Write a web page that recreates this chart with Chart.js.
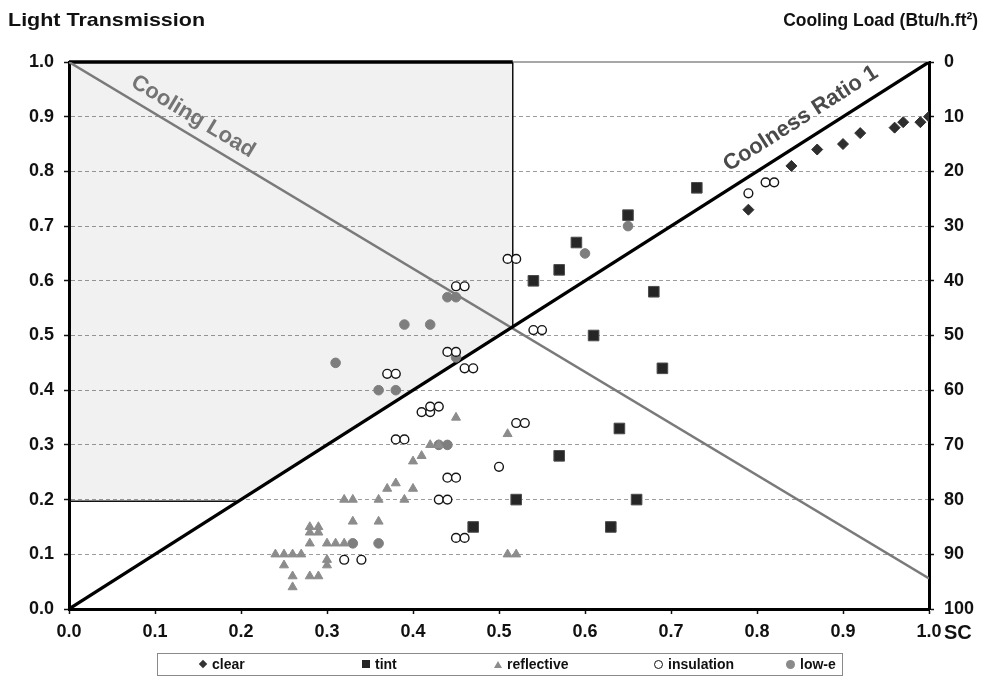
<!DOCTYPE html>
<html>
<head>
<meta charset="utf-8">
<script src="https://cdn.jsdelivr.net/npm/chart.js@4.4.0/dist/chart.umd.min.js"></script>
<style>
  html, body { margin: 0; padding: 0; background: #fff; }
  #wrap { position: relative; width: 985px; height: 680px; font-family: "Liberation Sans", Arial, sans-serif; color: #111; overflow: hidden; }
  #c { position: absolute; left: 0; top: 0; }
  .ttl { position: absolute; top: 9px; font-weight: bold; font-size: 19px; white-space: nowrap; }
  #ttlL { left: 8px; transform-origin: left center; }
  #ttlR { right: 7px; transform-origin: right center; }
  #sc { position: absolute; left: 944px; top: 621px; font-weight: bold; font-size: 20px; }
  #legend { position: absolute; left: 157px; top: 653px; width: 686px; height: 23px; border: 1px solid #8a8a8a; box-sizing: border-box; }
  .li { position: absolute; top: 0; height: 21px; line-height: 21px; font-weight: bold; font-size: 14px; white-space: nowrap; }
  .mk { display: inline-block; vertical-align: middle; margin-right: 5px; position: relative; top: -1px; }
  .mk-clear { width: 6px; height: 6px; background: #333; transform: rotate(45deg); margin-left: 1px; margin-right: 6px; }
  .mk-tint { width: 8px; height: 8px; background: #262626; }
  .mk-reflective { width: 0; height: 0; border-left: 4px solid transparent; border-right: 4px solid transparent; border-bottom: 7px solid #8c8c8c; }
  .mk-insulation { width: 7px; height: 7px; border: 1px solid #111; border-radius: 50%; background: #fff; }
  .mk-low-e { width: 9px; height: 9px; border-radius: 50%; background: #8a8a8a; }
</style>
</head>
<body>
<div id="wrap">
  <canvas id="c" width="985" height="680"></canvas>
  <div class="ttl" id="ttlL">Light Transmission</div>
  <div class="ttl" id="ttlR">Cooling Load (Btu/h.ft²)</div>
  <div id="sc">SC</div>
  <div id="legend"></div>
</div>
<script>
// ---------------- data ----------------
const seriesNames = ['clear', 'tint', 'reflective', 'insulation', 'low-e'];

const clearSC = [0.79, 0.84, 0.87, 0.90, 0.92, 0.96, 0.97, 0.99, 1.00];
const clearLT = [0.73, 0.81, 0.84, 0.85, 0.87, 0.88, 0.89, 0.89, 0.90];

const tintSC = [0.73, 0.65, 0.59, 0.57, 0.54, 0.68, 0.61, 0.69, 0.64, 0.57, 0.52, 0.66, 0.47, 0.63];
const tintLT = [0.77, 0.72, 0.67, 0.62, 0.60, 0.58, 0.50, 0.44, 0.33, 0.28, 0.20, 0.20, 0.15, 0.15];

const reflectiveSC = [0.45, 0.51, 0.41, 0.40, 0.42, 0.43, 0.38, 0.37, 0.40, 0.36, 0.39, 0.32, 0.33, 0.33, 0.36,
                      0.28, 0.29, 0.28, 0.29, 0.28, 0.30, 0.31, 0.32, 0.24, 0.25, 0.26, 0.27, 0.25, 0.26, 0.26,
                      0.28, 0.29, 0.30, 0.30, 0.51, 0.52];
const reflectiveLT = [0.35, 0.32, 0.28, 0.27, 0.30, 0.30, 0.23, 0.22, 0.22, 0.20, 0.20, 0.20, 0.20, 0.16, 0.16,
                      0.15, 0.15, 0.14, 0.14, 0.12, 0.12, 0.12, 0.12, 0.10, 0.10, 0.10, 0.10, 0.08, 0.06, 0.04,
                      0.06, 0.06, 0.09, 0.08, 0.10, 0.10];

const insulationSC = [0.79, 0.81, 0.82, 0.51, 0.52, 0.45, 0.46, 0.54, 0.55, 0.44, 0.45, 0.46, 0.47, 0.37, 0.38,
                      0.41, 0.42, 0.42, 0.43, 0.52, 0.53, 0.38, 0.39, 0.50, 0.44, 0.45, 0.43, 0.44, 0.45, 0.46,
                      0.32, 0.34];
const insulationLT = [0.76, 0.78, 0.78, 0.64, 0.64, 0.59, 0.59, 0.51, 0.51, 0.47, 0.47, 0.44, 0.44, 0.43, 0.43,
                      0.36, 0.36, 0.37, 0.37, 0.34, 0.34, 0.31, 0.31, 0.26, 0.24, 0.24, 0.20, 0.20, 0.13, 0.13,
                      0.09, 0.09];

const lowESC = [0.65, 0.60, 0.44, 0.45, 0.39, 0.42, 0.31, 0.36, 0.38, 0.45, 0.43, 0.44, 0.33, 0.36];
const lowELT = [0.70, 0.65, 0.57, 0.57, 0.52, 0.52, 0.45, 0.40, 0.40, 0.46, 0.30, 0.30, 0.12, 0.12];

// reference lines (data space)
const coolnessRatioSC = [0, 1];
const coolnessRatioLT = [0, 1];
const coolingLoadSC = [0, 1];
const coolingLoadLT = [1, 0.056];
const shadeSC = [0, 0.197, 0.516, 0.516];
const shadeLT = [0.197, 0.197, 0.516, 1];
const shadeTopSC = [0, 0.516];
const shadeTopLT = [1, 1];
const frameTopSC = [0.516, 1];
const frameTopLT = [1, 1];

// axis ticks
const ltTicks = [0, 0.1, 0.2, 0.3, 0.4, 0.5, 0.6, 0.7, 0.8, 0.9, 1.0];
const scTicks = [0, 0.1, 0.2, 0.3, 0.4, 0.5, 0.6, 0.7, 0.8, 0.9, 1.0];
const coolingLoadTicks = [0, 10, 20, 30, 40, 50, 60, 70, 80, 90, 100];

// --------------- build ---------------
const pts = (xs, ys) => xs.map((v, i) => ({ x: v, y: ys[i] }));
const FONT = '"Liberation Sans", Arial, sans-serif';

// fit the two header titles to the widths they have in the reference
function fitWidth(id, target) {
  const el = document.getElementById(id);
  const w = el.getBoundingClientRect().width;
  if (w > 0) el.style.transform = 'scaleX(' + (target / w).toFixed(3) + ')';
}
fitWidth('ttlL', 197);
fitWidth('ttlR', 195);

// HTML legend
const legendEl = document.getElementById('legend');
const legendOffsets = [41, 204, 336, 496, 628];
seriesNames.forEach((n, i) => {
  const d = document.createElement('div');
  d.className = 'li';
  d.style.left = legendOffsets[i] + 'px';
  const m = document.createElement('span');
  m.className = 'mk mk-' + n;
  d.appendChild(m);
  d.appendChild(document.createTextNode(n));
  legendEl.appendChild(d);
});

function lineDs(label, xs, ys, color, width, order, extra) {
  return Object.assign({
    type: 'line', label, data: pts(xs, ys), borderColor: color, borderWidth: width,
    pointRadius: 0, pointHoverRadius: 0, fill: false, tension: 0, order, yAxisID: 'y', xAxisID: 'x'
  }, extra || {});
}

const lineLabels = {
  id: 'lineLabels',
  afterDatasetsDraw(chart) {
    const { ctx } = chart;
    const xs = chart.scales.x, ys = chart.scales.y;
    const put = (sx, sy, t, d, text, color, size) => {
      const p0 = { x: xs.getPixelForValue(sx[0]), y: ys.getPixelForValue(sy[0]) };
      const p1 = { x: xs.getPixelForValue(sx[1]), y: ys.getPixelForValue(sy[1]) };
      const a = Math.atan2(p1.y - p0.y, p1.x - p0.x);
      const bx = p0.x + (p1.x - p0.x) * t, by = p0.y + (p1.y - p0.y) * t;
      const cx = bx + Math.sin(a) * d, cy = by - Math.cos(a) * d;
      ctx.save();
      ctx.translate(cx, cy);
      ctx.rotate(a);
      ctx.font = 'bold ' + size + 'px ' + FONT;
      ctx.fillStyle = color;
      ctx.textAlign = 'center';
      ctx.textBaseline = 'middle';
      ctx.fillText(text, 0, 0);
      ctx.restore();
    };
    put(coolingLoadSC, coolingLoadLT, 0.134, 17, 'Cooling Load', '#747474', 22);
    put(coolnessRatioSC, coolnessRatioLT, 0.864, 21, 'Coolness Ratio 1', '#4a4a4a', 22);
  }
};

const tickFont = { family: FONT, size: 18, weight: 'bold' };

new Chart(document.getElementById('c'), {
  type: 'scatter',
  data: {
    datasets: [
      { label: seriesNames[0], data: pts(clearSC, clearLT), pointStyle: 'rectRot', pointRadius: 5.5,
        backgroundColor: '#2e2e2e', borderColor: '#2e2e2e', borderWidth: 1, order: 1 },
      { label: seriesNames[1], data: pts(tintSC, tintLT), pointStyle: 'rect', pointRadius: 7.5,
        backgroundColor: '#262626', borderColor: '#4d4d4d', borderWidth: 1, order: 2 },
      { label: seriesNames[2], data: pts(reflectiveSC, reflectiveLT), pointStyle: 'triangle', pointRadius: 5.2,
        backgroundColor: '#8c8c8c', borderColor: '#8c8c8c', borderWidth: 1, order: 4 },
      { label: seriesNames[3], data: pts(insulationSC, insulationLT), pointStyle: 'circle', pointRadius: 4.4,
        backgroundColor: '#ffffff', borderColor: '#151515', borderWidth: 1.4, order: 3 },
      { label: seriesNames[4], data: pts(lowESC, lowELT), pointStyle: 'circle', pointRadius: 4.8,
        backgroundColor: '#7e7e7e', borderColor: '#7e7e7e', borderWidth: 1, order: 5 },
      lineDs('Coolness Ratio 1', coolnessRatioSC, coolnessRatioLT, '#000000', 3.2, 10),
      lineDs('Cooling Load', coolingLoadSC, coolingLoadLT, '#7a7a7a', 2.4, 11),
      lineDs('shade top', shadeTopSC, shadeTopLT, '#000000', 3.5, 12, { clip: false }),
      lineDs('frame top', frameTopSC, frameTopLT, '#8a8a8a', 1.5, 13, { clip: false }),
      lineDs('shade', shadeSC, shadeLT, '#111111', 1.5, 20,
        { fill: 'end', backgroundColor: 'rgba(0,0,0,0.055)' })
    ]
  },
  options: {
    responsive: false,
    animation: false,
    devicePixelRatio: 1,
    events: [],
    layout: { padding: { top: 62, left: 0, right: 0, bottom: 0 } },
    plugins: { legend: { display: false }, tooltip: { enabled: false }, title: { display: false } },
    scales: {
      x: {
        type: 'linear', position: 'bottom', min: 0, max: 1,
        afterFit(s) { s.height = 71; },
        afterBuildTicks(s) { s.ticks = scTicks.map(v => ({ value: v })); },
        ticks: { font: tickFont, color: '#111', padding: 7, maxRotation: 0, autoSkip: false,
                 callback: v => Number(v).toFixed(1) },
        grid: { drawOnChartArea: false, drawTicks: true, tickLength: 5, tickColor: '#111', tickWidth: 1.5 },
        border: { color: '#000', width: 3 }
      },
      y: {
        type: 'linear', position: 'left', min: 0, max: 1,
        afterFit(s) { s.width = 69; },
        afterBuildTicks(s) { s.ticks = ltTicks.map(v => ({ value: v })); },
        ticks: { font: tickFont, color: '#111', padding: 10, autoSkip: false,
                 callback: v => Number(v).toFixed(1) },
        grid: {
          color: c => (c.tick && (c.tick.value <= 0.001 || c.tick.value >= 0.999)) ? 'rgba(0,0,0,0)' : '#9c9c9c',
          lineWidth: 1, drawTicks: true, tickLength: 5, tickColor: '#111', tickWidth: 1.5, tickBorderDash: []
        },
        border: { color: '#000', width: 3, dash: [4, 3] }
      },
      y2: {
        type: 'linear', position: 'right', min: 0, max: 100, reverse: true,
        afterFit(s) { s.width = 56; },
        afterBuildTicks(s) { s.ticks = coolingLoadTicks.map(v => ({ value: v })); },
        ticks: { font: tickFont, color: '#111', padding: 10, autoSkip: false },
        grid: { drawOnChartArea: false, drawTicks: true, tickLength: 5, tickColor: '#111', tickWidth: 1.5 },
        border: { color: '#000', width: 3 }
      }
    }
  },
  plugins: [lineLabels]
});
</script>
</body>
</html>
